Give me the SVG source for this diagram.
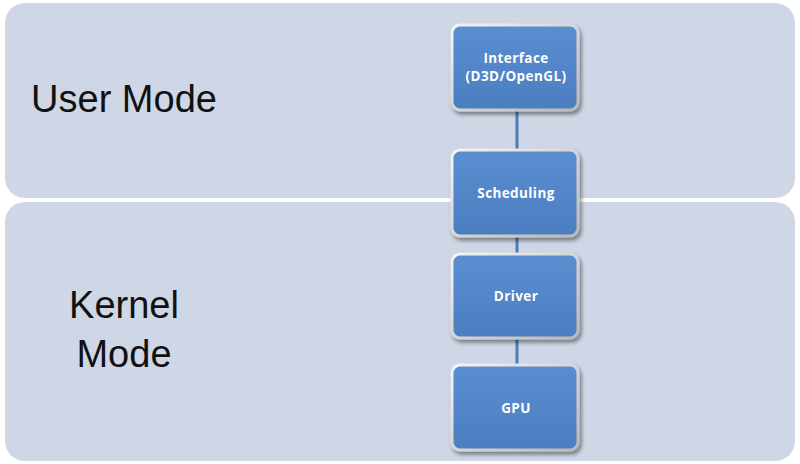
<svg xmlns="http://www.w3.org/2000/svg" width="800" height="464" viewBox="0 0 800 464">
<style>
.panel{fill:#cfd7e6}
.mode{font-family:"Liberation Sans",Arial,sans-serif;font-size:38px;fill:#111;text-anchor:middle}
.box{fill:url(#bg);stroke:url(#sg);stroke-width:3;filter:url(#sh)}
.lbl{font-family:"Open Sans","Liberation Sans",sans-serif;font-weight:bold;font-size:13.5px;letter-spacing:0.4px;fill:#fff;text-anchor:middle}
.conn{stroke:#4a7ebb;stroke-width:3}
</style>
<defs>
<linearGradient id="bg" x1="0" y1="0" x2="0" y2="1">
<stop offset="0" stop-color="#5a8ed0"/>
<stop offset="1" stop-color="#4b7ec0"/>
</linearGradient>
<linearGradient id="sg" x1="0" y1="0" x2="1" y2="1">
<stop offset="0" stop-color="#f4f4f4"/>
<stop offset="1" stop-color="#b8b8b8"/>
</linearGradient>
<filter id="sh" x="-10%" y="-10%" width="125%" height="130%">
<feGaussianBlur in="SourceAlpha" stdDeviation="2"/>
<feOffset dx="2" dy="3" result="b"/>
<feComponentTransfer><feFuncA type="linear" slope="0.45"/></feComponentTransfer>
<feMerge><feMergeNode/><feMergeNode in="SourceGraphic"/></feMerge>
</filter>
</defs>
<rect width="800" height="464" fill="#fff"/>
<g id="user-mode">
<rect class="panel" x="5" y="3" width="790" height="195" rx="20"/>
<text class="mode" x="124" y="112">User Mode</text>
</g>
<g id="kernel-mode">
<rect class="panel" x="5" y="202" width="790" height="259" rx="20"/>
<text class="mode" x="124" y="318">Kernel</text>
<text class="mode" x="124" y="367">Mode</text>
</g>
<g id="connectors">
<line class="conn" x1="517" y1="108" x2="517" y2="152"/>
<line class="conn" x1="517" y1="234" x2="517" y2="256"/>
<line class="conn" x1="517" y1="336" x2="517" y2="367"/>
</g>
<g id="interface">
<rect class="box" x="452" y="25" width="126" height="85" rx="8"/>
<text class="lbl" x="516" y="63">Interface</text>
<text class="lbl" x="516" y="81">(D3D/OpenGL)</text>
</g>
<g id="scheduling">
<rect class="box" x="452" y="150" width="126" height="86" rx="8"/>
<text class="lbl" x="516" y="198">Scheduling</text>
</g>
<g id="driver">
<rect class="box" x="452" y="254" width="126" height="84" rx="8"/>
<text class="lbl" x="516" y="301">Driver</text>
</g>
<g id="gpu">
<rect class="box" x="452" y="365" width="126" height="85" rx="8"/>
<text class="lbl" x="516" y="413">GPU</text>
</g>
</svg>
